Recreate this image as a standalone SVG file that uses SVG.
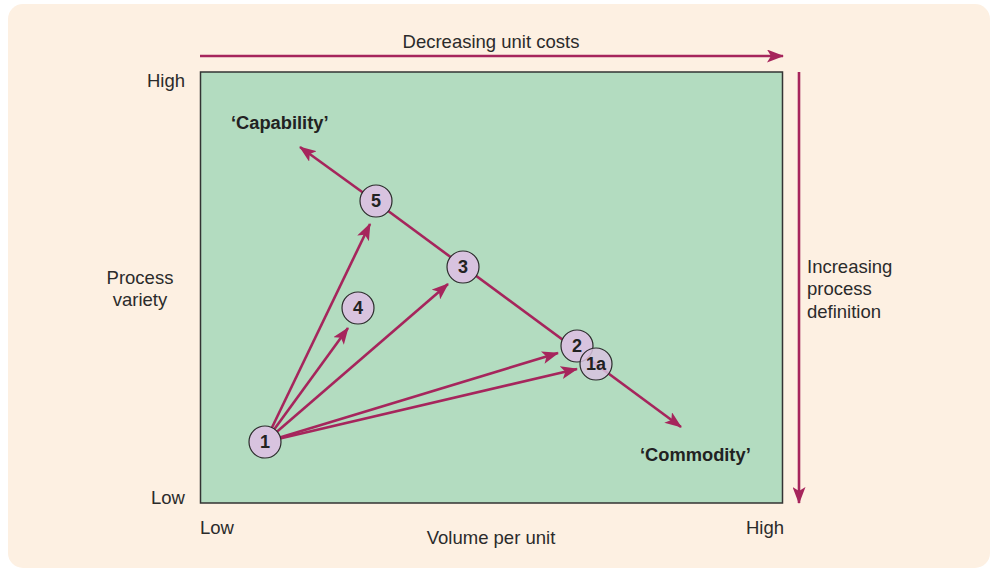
<svg xmlns="http://www.w3.org/2000/svg" width="994" height="571" viewBox="0 0 994 571">
<style>
.lbl{font-family:"Liberation Sans",Arial,sans-serif;font-size:18.5px;fill:#2b2b2b}
.bold{font-family:"Liberation Sans",Arial,sans-serif;font-size:18.3px;font-weight:bold;fill:#222}
.nd circle{fill:#d8c3df;stroke:#2b2b2b;stroke-width:1.2}
.nd text{font-family:"Liberation Sans",Arial,sans-serif;font-size:18px;font-weight:bold;fill:#222;text-anchor:middle}
.ar{stroke:#a6255c;stroke-width:2.6;fill:none;marker-end:url(#ah)}
</style>
<defs>
<marker id="ah" viewBox="0 0 17 13" refX="16" refY="6.5" markerWidth="17" markerHeight="13" markerUnits="userSpaceOnUse" orient="auto">
<path d="M0,0 L17,6.5 L0,13 L4,6.5 Z" fill="#a6255c"/>
</marker>
</defs>
<rect x="8" y="4" width="982" height="564" rx="15" fill="#fdf0e2"/>
<rect x="200.5" y="72" width="582" height="431" fill="#b3dcc0" stroke="#333" stroke-width="1.5"/>
<g id="axes">
<text class="lbl" x="491" y="48" text-anchor="middle">Decreasing unit costs</text>
<text class="lbl" x="185" y="87" text-anchor="end">High</text>
<text class="lbl" x="185" y="504" text-anchor="end">Low</text>
<text class="lbl" x="140" y="284" text-anchor="middle">Process</text>
<text class="lbl" x="140" y="306" text-anchor="middle">variety</text>
<text class="lbl" x="200" y="534">Low</text>
<text class="lbl" x="784" y="534" text-anchor="end">High</text>
<text class="lbl" x="491" y="544" text-anchor="middle">Volume per unit</text>
<text class="lbl" x="807" y="273">Increasing</text>
<text class="lbl" x="807" y="295">process</text>
<text class="lbl" x="807" y="318">definition</text>
<text class="bold" x="231" y="129">‘Capability’</text>
<text class="bold" x="640" y="461">‘Commodity’</text>
</g>
<g id="connectors">
<line class="ar" x1="200" y1="56" x2="783" y2="56"/>
<line class="ar" x1="799" y1="72" x2="799" y2="503"/>
<line class="ar" x1="376" y1="202" x2="300" y2="147"/>
<line class="ar" x1="376" y1="202" x2="681" y2="427"/>
<line class="ar" x1="265" y1="442" x2="370" y2="224"/>
<line class="ar" x1="265" y1="442" x2="348" y2="328"/>
<line class="ar" x1="265" y1="442" x2="448" y2="284"/>
<line class="ar" x1="265" y1="442" x2="558" y2="353"/>
<line class="ar" x1="265" y1="442" x2="577" y2="369"/>
</g>
<g id="n1" class="nd"><circle cx="265" cy="442" r="16"/><text x="265" y="448">1</text></g>
<g id="n5" class="nd"><circle cx="376" cy="201" r="16"/><text x="376" y="207">5</text></g>
<g id="n3" class="nd"><circle cx="463" cy="267" r="16"/><text x="463" y="273">3</text></g>
<g id="n4" class="nd"><circle cx="358" cy="308" r="16"/><text x="358" y="314">4</text></g>
<g id="n2" class="nd"><circle cx="577" cy="346" r="16"/><text x="577" y="352">2</text></g>
<g id="n1a" class="nd"><circle cx="596" cy="364" r="16" fill-opacity="0.85"/><text x="596" y="370">1a</text></g>
</svg>
